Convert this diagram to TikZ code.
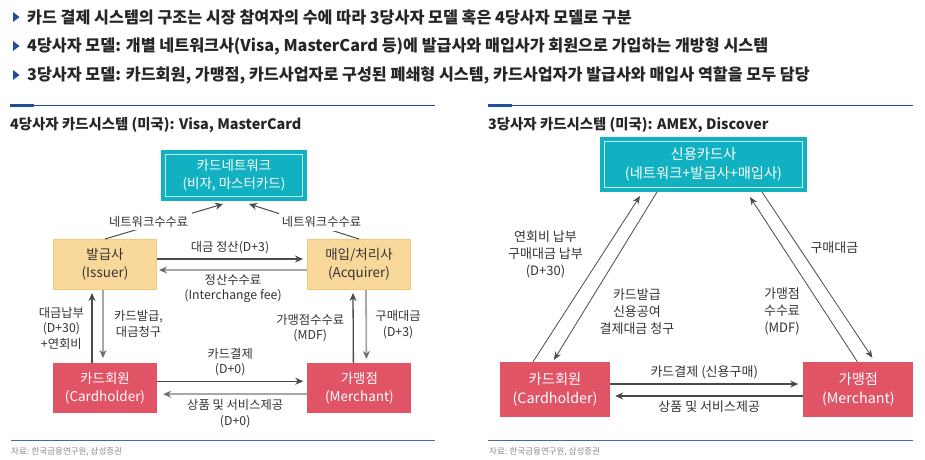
\documentclass[tikz,border=0pt]{standalone}
\usepackage{fontspec}
\setmainfont{Noto Sans CJK KR}
\usetikzlibrary{arrows.meta, positioning}
\definecolor{navy}{HTML}{1F4E9E}
\definecolor{rulebl}{HTML}{3A6BB5}
\definecolor{netteal}{HTML}{12B1C1}
\definecolor{netline}{HTML}{BDE9EF}
\definecolor{issfill}{HTML}{F9D99B}
\definecolor{issline}{HTML}{F3C978}
\definecolor{redfill}{HTML}{E15466}
\definecolor{darkline}{HTML}{4A4A4A}
\definecolor{lightline}{HTML}{A8A8A8}
\definecolor{txt}{HTML}{333333}
\definecolor{srcgray}{HTML}{8A8A8A}

\begin{document}
\begin{tikzpicture}[x=1pt, y=-1pt,
    font=\fontsize{12.3}{15.5}\selectfont, text=txt,
    hdr/.style={anchor=west, inner sep=0pt, text=black!85, font=\fontsize{16.2}{18}\selectfont\bfseries},
    ttl/.style={anchor=west, inner sep=0pt, text=black!85, font=\fontsize{14.4}{17}\selectfont\bfseries},
    src/.style={anchor=west, inner sep=0pt, text=srcgray, font=\fontsize{8.5}{10}\selectfont},
    netbox/.style={fill=netteal, draw=netteal, double=netline, line width=4pt, double distance=0.8pt, outer sep=4.5pt, text=white, align=center, font=\fontsize{13.5}{18}\selectfont},
    issbox/.style={fill=issfill, draw=issline, line width=1pt, minimum width=103pt, minimum height=50pt, align=center, font=\fontsize{13.5}{18}\selectfont},
    membox/.style={fill=redfill, minimum width=104pt, minimum height=50pt, text=white, align=center, font=\fontsize{13.5}{18}\selectfont},
    bigtext/.style={font=\fontsize{14.3}{19}\selectfont},
    lbl/.style={align=center},
    rlbl/.style={align=center, font=\fontsize{13}{17}\selectfont},
    ar/.style={-{Stealth[length=8pt, width=7pt, color=darkline]}, draw=darkline, line width=1.3pt},
    arl/.style={-{Stealth[length=8pt, width=7pt, color=darkline!80]}, draw=lightline, line width=1.8pt},
    tar/.style={-{Stealth[length=8pt, width=7pt]}, draw=darkline, line width=1pt},
    rar/.style={-{Stealth[length=8pt, width=6.5pt]}, draw=darkline, line width=0.8pt},
    rarb/.style={-{Stealth[length=8pt, width=7pt]}, draw=darkline, line width=1.2pt}
]
\useasboundingbox (0,0) rectangle (925,459);

% header
\fill[navy] (13,12) -- (19.5,17) -- (13,22) -- cycle;
\node[hdr] (hd1) at (27,17) {카드 결제 시스템의 구조는 시장 참여자의 수에 따라 3당사자 모델 혹은 4당사자 모델로 구분};
\fill[navy] (13,41) -- (19.5,46) -- (13,51) -- cycle;
\node[hdr] (hd2) at (27,46) {4당사자 모델: 개별 네트워크사(Visa, MasterCard 등)에 발급사와 매입사가 회원으로 가입하는 개방형 시스템};
\fill[navy] (13,70) -- (19.5,75) -- (13,80) -- cycle;
\node[hdr] (hd3) at (27,75) {3당사자 모델: 카드회원, 가맹점, 카드사업자로 구성된 폐쇄형 시스템, 카드사업자가 발급사와 매입사 역할을 모두 담당};

% rules and titles
\fill[navy] (10,103.5) rectangle (34,107);
\draw[navy, line width=0.8pt] (10,105.3) -- (435,105.3);
\fill[navy] (488,103.5) rectangle (512,107);
\draw[navy, line width=0.8pt] (488,105.3) -- (913,105.3);
\node[ttl] (ttlL) at (10,125) {4당사자 카드시스템 (미국): Visa, MasterCard};
\node[ttl] (ttlR) at (488,125) {3당사자 카드시스템 (미국): AMEX, Discover};

% 4-party
\node[netbox, minimum width=137pt, minimum height=42pt] (net) at (234,175.5) {카드네트워크\\(비자, 마스터카드)};
\node[issbox] (iss) at (105,264.5) {발급사\\(Issuer)};
\node[issbox, right=150pt of iss] (acq) {매입/처리사\\(Acquirer)};
\node[membox, below=73pt of iss] (ch) {카드회원\\(Cardholder)};
\node[membox, right=150pt of ch] (mer) {가맹점\\(Merchant)};

\draw[tar] (iss.north) -- node[lbl, pos=0.37, fill=white, yshift=4.5pt] {네트워크수수료} ([xshift=-11pt, yshift=-3pt]net.south);
\draw[tar] (acq.north) -- node[lbl, pos=0.34, fill=white, yshift=5pt] {네트워크수수료} ([xshift=15pt, yshift=-3pt]net.south);
\draw[ar] ([yshift=5.5pt]iss.east) -- node[lbl, above=1pt] {대금 정산(D+3)} ([xshift=-4pt, yshift=5.5pt]acq.west);
\draw[arl] ([yshift=-5.5pt]acq.west) -- node[lbl, below=0pt] {정산수수료\\(Interchange fee)} ([xshift=2pt, yshift=-5.5pt]iss.east);
\draw[ar] ([xshift=-13pt]ch.north) -- node[lbl, left=4pt] {대금납부\\(D+30)\\+연회비} ([xshift=-13pt, yshift=-3pt]iss.south);
\draw[arl] ([xshift=-2pt]iss.south) -- node[lbl, right=7pt] {카드발급,\\대금청구} ([xshift=-2pt, yshift=5pt]ch.north);
\draw[ar] ([xshift=-6pt]mer.north) -- node[lbl, left=5pt] {가맹점수수료\\(MDF)} ([xshift=-6pt, yshift=-3pt]acq.south);
\draw[arl] ([xshift=7pt]acq.south) -- node[lbl, right=5pt] {구매대금\\(D+3)} ([xshift=7pt, yshift=4pt]mer.north);
\draw[ar] ([yshift=7pt]ch.east) -- node[lbl, above=1pt] {카드결제\\(D+0)} ([xshift=-4pt, yshift=7pt]mer.west);
\draw[arl] ([yshift=-6pt]mer.west) -- node[lbl, below=1pt] {상품 및 서비스제공\\(D+0)} ([xshift=6pt, yshift=-6pt]ch.east);

% 3-party
\node[netbox, bigtext, minimum width=198pt, minimum height=46pt] (card) at (703.5,164.5) {신용카드사\\(네트워크+발급사+매입사)};
\node[membox, bigtext, minimum width=110pt, minimum height=55pt] (rch) at (555,389.5) {카드회원\\(Cardholder)};
\node[membox, bigtext, minimum width=110pt, minimum height=55pt, right=193pt of rch] (rmer) {가맹점\\(Merchant)};

\draw[rar] ([xshift=-22pt]rch.north) -- node[rlbl, pos=0.65, left=16pt] {연회비 납부\\구매대금 납부\\(D+30)} ([xshift=-63.5pt, yshift=-4pt]card.south);
\draw[rar] ([xshift=-46.5pt]card.south) -- node[rlbl, pos=0.71, right=12pt] {카드발급\\신용공여\\결제대금 청구} ([xshift=-1pt, yshift=2pt]rch.north);
\draw[rar] ([xshift=-1pt]rmer.north) -- node[rlbl, pos=0.305, left=21pt] {가맹점\\수수료\\(MDF)} ([xshift=46.5pt, yshift=-5pt]card.south);
\draw[rar] ([xshift=58.5pt]card.south) -- node[rlbl, pos=0.333, right=8pt] {구매대금} ([xshift=14pt, yshift=4pt]rmer.north);
\draw[rarb] ([yshift=5.5pt]rch.east) -- node[rlbl, above=1pt] {카드결제 (신용구매)} ([xshift=-5pt, yshift=5.5pt]rmer.west);
\draw[rarb] ([yshift=-6.5pt]rmer.west) -- node[rlbl, below=1pt] {상품 및 서비스제공} ([xshift=5pt, yshift=-6.5pt]rch.east);

% sources
\draw[rulebl, line width=1pt] (11,440) -- (435,440);
\draw[rulebl, line width=1pt] (488,440) -- (913,440);
\node[src] (srcL) at (11,452) {자료: 한국금융연구원, 삼성증권};
\node[src] (srcR) at (489,452) {자료: 한국금융연구원, 삼성증권};
\end{tikzpicture}
\end{document}
